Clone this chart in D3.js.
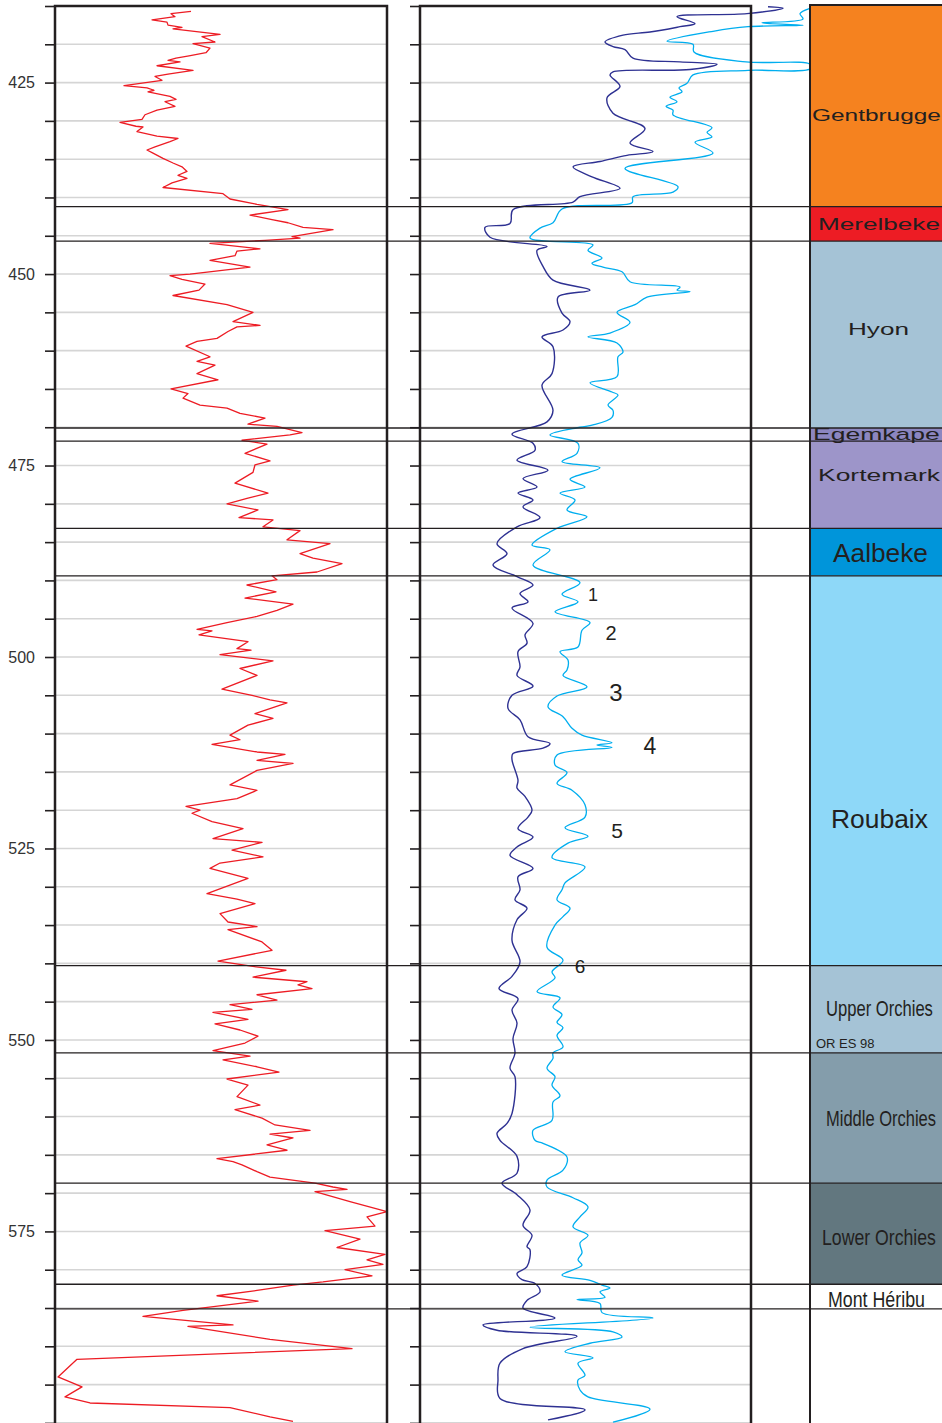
<!DOCTYPE html>
<html><head><meta charset="utf-8">
<script src="https://cdn.jsdelivr.net/npm/d3@7"></script>
<style>html,body{margin:0;padding:0;background:#fff;}svg{display:block;}</style>
</head><body>
<svg id="chart" width="942" height="1423"></svg>
<script>
// ---------------- DATA ----------------
const depthTicks = d3.range(415, 601, 5);
const depthLabels = [425, 450, 475, 500, 525, 550, 575];

const formationNames = ["Gentbrugge","Merelbeke","Hyon","Egemkape","Kortemark","Aalbeke","Roubaix","Upper Orchies","Middle Orchies","Lower Orchies","Mont Héribu"];
const formationTop  = [415.0, 441.2, 445.7, 470.1, 471.8, 483.2, 489.4, 540.3, 551.7, 568.7, 581.9];
const formationBase = [441.2, 445.7, 470.1, 471.8, 483.2, 489.4, 540.3, 551.7, 568.7, 581.9, 585.1];
const sampleNote = "OR ES 98";

const redDepth = [415.7,416.0,416.4,416.8,417.1,417.5,417.8,418.0,418.7,419.0,
419.7,419.9,420.5,421.1,421.5,421.8,422.1,422.3,422.8,423.4,
423.9,424.2,424.7,425.4,425.7,426.0,426.2,426.8,427.2,427.5,
428.1,428.6,429.2,429.8,430.2,430.7,430.8,431.4,432.0,432.3,
432.7,433.4,433.8,434.2,434.9,435.5,436.0,436.6,437.1,437.5,
438.1,438.7,439.5,440.2,440.9,441.6,442.3,442.9,443.3,443.9,
444.2,445.1,445.3,445.6,446.0,446.7,447.0,447.6,448.2,449.1,
450.0,450.2,450.7,451.3,452.1,452.8,
454.0,455.0,456.2,456.7,456.9,457.5,458.4,458.8,459.4,460.8,
461.4,461.9,463.0,463.8,465.0,465.6,466.2,467.1,467.5,468.2,
468.8,469.6,469.9,470.7,471.0,471.7,472.2,473.4,474.4,474.9,
475.9,477.3,478.6,479.3,480.0,480.8,481.8,482.1,483.0,483.5,
484.7,485.2,486.5,487.1,487.8,488.9,489.4,489.9,490.6,491.5,
492.3,493.1,493.9,494.7,495.5,496.4,496.6,497.1,498.0,498.9,
499.1,499.7,500.5,501.5,502.4,504.2,505.0,505.6,506.0,507.4,
508.0,508.9,510.2,510.8,511.4,512.4,512.7,513.5,513.9,514.8,
516.7,517.4,518.5,519.5,520.0,520.4,521.5,522.4,523.7,524.2,
525.2,526.1,526.9,527.6,528.9,530.9,531.6,532.2,533.5,534.6,
535.2,535.6,537.2,538.3,539.7,540.4,540.9,541.8,542.4,542.8,
543.3,544.1,544.8,545.4,546.0,546.4,547.3,547.9,548.7,549.5,
550.4,551.4,552.1,552.6,553.5,554.2,555.1,555.9,557.4,558.5,
559.1,560.2,561.1,561.8,562.3,562.8,563.7,564.4,565.5,565.9,
566.3,567.2,567.9,568.4,568.7,569.2,569.5,569.8,571.1,572.4,
573.1,574.3,574.9,576.0,577.1,578.0,578.7,579.3,580.0,580.8,
581.6,582.0,582.7,583.4,584.1,585.3,586.1,587.2,587.4,589.1,
590.3,591.7,594.0,595.3,596.6,597.4,598.0,599.2,599.8];
const redValue = [68,58,60,48.5,56,56.5,63.5,59,82.5,73.5,
80,69,77.5,75.5,67,60.5,56.5,62.5,51,69,
56.5,50,53.5,34.5,46,49.5,46.5,57.5,60.5,55,
60,51,45,43.5,32.5,40.5,44,41,51,61.5,
57.5,50,46,49,54,59,63.5,66,61.5,66,
58.5,54,84,87.5,101,116.5,97.5,108.5,116.5,124,
139,118.5,122.5,105,77.5,102.5,91,90,77.5,97.5,
67.5,57.5,63.5,75,72,59,
86,99,89,102.5,91,86.5,81,71,65.5,77.5,
71,80,71,81.5,58,66.5,64,72.5,86,92.5,
105,96.5,111,123.5,117.5,93.5,106,95,107.5,100,
99,90,106.5,96,86,101.5,92,109,104,122.5,
116,137.5,122.5,129,143.5,131,108.5,111,96,110.5,
95,119,111,101,86,71,78.5,72,96.5,91,
98,82.5,109,92.5,101,83.5,98.5,107.5,116,100,
109,96.5,87.5,92.5,78.5,101,115,101,119,101,
87.5,101,91,65.5,72.5,68.5,78.5,94,79,103.5,
88.5,104,82.5,77.5,96.5,76,91,100,82.5,86.5,
101,86.5,103.5,108.5,81.5,99,115.5,99,126,121.5,
128.5,101,111,87.5,98.5,79,96.5,80,92.5,101.5,
95,79,97.5,84,101,112,86,96.5,91,102.5,
90,103.5,110,127.5,107.5,119,106,116,81,89,
93.5,101,107.5,121.5,130,139,146,130,147.5,166,
156,160,135,152.5,141,165,156,164,145,158.5,
134,119,101,81,101.5,64,44,89,66.5,107.5,
148.5,11,1.5,13.5,5,17.5,87.5,107.5,119];

const navyDepth = [415.1,415.3,416.0,416.4,417.3,417.7,418.4,418.8,419.7,420.3,
420.7,421.8,422.3,422.6,423.3,423.6,424.0,425.5,427.0,429.0,
431.0,432.9,434.0,434.5,435.3,436.0,437.3,438.8,439.9,440.6,
441.6,443.4,443.9,445.2,446.4,446.9,449.0,450.8,452.1,453.0,
455.1,456.2,457.3,458.2,459.5,463.0,464.5,467.8,469.3,470.9,
472.1,473.0,474.3,475.6,476.7,477.8,478.6,479.5,480.4,481.8,
483.0,485.2,486.5,488.0,489.5,490.6,491.7,492.8,493.6,495.6,
497.1,498.2,499.3,501.3,502.4,503.8,505.0,506.7,508.2,510.4,
511.3,511.9,512.6,513.4,516.1,517.1,518.2,520.0,520.9,522.4,
523.5,524.8,525.9,527.6,528.7,530.4,531.7,532.8,534.3,537.0,
539.8,541.7,543.3,544.6,546.1,547.8,549.8,551.7,553.7,554.8,
559.6,560.9,562.2,563.1,565.2,567.4,568.7,570.2,572.2,574.2,
575.5,577.0,577.4,579.6,580.5,581.3,581.8,582.9,584.0,585.0,
586.3,587.2,587.9,588.7,590.3,592.2,594.4,596.8,598.3,599.6];
const navyValue = [174,181.5,163.5,128.5,137.5,130,115,101.5,92.5,96.5,
102.5,106.5,130,148.5,135,96.5,95,100,93.5,96.5,
112.5,105,116.5,103.5,90,76.5,86,100,80,76.5,
46.5,45,32.5,35,63.5,58.5,61.5,66.5,85,69,
71,75,71.5,61,66.5,66,61,66.5,63.5,46,
56.5,57.5,48.5,64,51.5,58.5,49,56.5,51.5,60,
48.5,38.5,43.5,36.5,48.5,56.5,50,54,46,56.5,
52.5,53.5,49,50,48.5,56.5,46,44,50,54,
65,61.5,46.5,46,49,48.5,52.5,56,54,49,
56.5,48.5,45,56.5,49,50,47.5,53.5,48.5,46,
50,46,39.5,49,46,48.5,46.5,47.5,45,47.5,
46,43.5,38.5,40,48.5,48.5,41,48.5,55,51.5,
56,53.5,55,53.5,48.5,51,57.5,60,53.5,51.5,
67.5,31.5,38.5,78.5,51.5,40,39,40,82.5,64];

const cyanDepth = [415.3,416.0,416.7,417.2,417.5,417.7,418.3,419.6,420.0,421.0,
422.3,422.6,423.2,423.4,424.0,425.1,425.7,426.2,426.9,427.5,
428.1,428.6,429.2,430.9,431.5,432.1,432.8,434.2,436.2,438.6,
439.3,439.9,440.7,441.5,443.3,444.0,445.3,446.2,446.9,447.9,
448.6,449.1,449.7,451.0,451.7,452.1,452.3,453.0,454.0,455.0,
456.3,457.7,458.2,459.0,460.2,460.8,463.4,464.2,465.4,465.8,
467.1,467.8,468.7,469.7,470.0,471.0,472.1,473.4,474.5,475.3,
476.8,477.8,478.6,479.5,480.8,481.7,483.2,485.4,486.0,488.0,
490.3,491.8,492.8,494.1,495.5,496.5,498.7,499.3,500.4,501.7,
502.4,503.9,505.1,506.5,507.8,509.3,510.2,511.2,511.5,511.8,
512.8,514.1,515.1,516.5,517.4,519.3,520.9,522.3,523.4,524.3,
526.2,527.4,529.5,530.4,531.7,532.8,533.9,535.0,537.9,539.6,
541.1,541.9,543.7,544.5,545.7,546.7,547.7,548.4,549.4,550.9,
551.7,552.4,553.7,554.8,555.9,557.3,558.1,560.5,561.8,563.1,
563.5,565.3,567.0,568.3,569.2,570.6,571.8,573.1,574.4,575.5,
576.5,577.8,578.7,579.4,580.7,581.4,582.0,582.4,582.9,583.6,
583.9,584.4,585.6,586.3,587.5,588.1,588.8,589.6,590.7,591.5,
592.2,593.8,594.4,595.7,596.6,598.2,599.9];
const cyanValue = [195,190,191.5,171,191.5,164,146.5,123.5,136.5,137,
163,195,195,164,136.5,133.5,129.5,131,125,128.5,
123,126.5,126.5,146,143.5,146,137.5,146.5,102.5,129,
126.5,106.5,106,71,66.5,60,55,86.5,84,91,
86,91.5,101,105,130,128.5,135,113.5,107.5,98.5,
105,95,84,98.5,101.5,99,98.5,85,96,99,
94,96.5,96,86.5,80,65,79,78.5,71,90,
75,82.5,70,77.5,73.5,83.5,68.5,56,65,56.5,
80,71,79,67.5,85,81,79,70,74,73.5,
71.5,83.5,68.5,64,71.5,76,81,96,88.5,96,
68.5,67.5,73.5,68.5,76,82.5,82.5,72.5,84,74,
66,82.5,72.5,71,68.5,75,71.5,67.5,63.5,71.5,
66,67.5,58.5,70,66.5,71,68.5,71.5,68.5,71.5,
66.5,66.5,63.5,67.5,66,70,66.5,66,56.5,57.5,
61.5,73.5,71.5,63.5,63.5,76.5,84,80,76.5,84,
80,81,79,81,71,85,91,95,90,92.5,
78.5,90,91,116.5,55,96.5,101,85,72.5,86.5,
79,82.5,79,80,84,115,96.5];

const markerLabels = ["1","2","3","4","5","6"];
const markerDepth  = [491.9, 496.9, 504.6, 511.6, 522.7, 540.4];
const markerValue  = [86.5, 95.5, 98, 115, 98.5, 80];

// ---------------- STYLE / LAYOUT ----------------
const INK = "#231F20";
const FONT = "Liberation Sans, Arial, sans-serif";
const formationStyle = {
  "Gentbrugge":     {fill:"#F5821F", x:812, base:121, fs:16.5, len:129},
  "Merelbeke":      {fill:"#ED1C24", x:818, base:230, fs:16.5, len:122},
  "Hyon":           {fill:"#A5C3D6", x:848, base:335, fs:16.5, len:61},
  "Egemkape":       {fill:"#8C86C0", x:813, base:440, fs:16,   len:127},
  "Kortemark":      {fill:"#9D95C9", x:818, base:481, fs:16.5, len:122},
  "Aalbeke":        {fill:"#0095DA", x:833, base:562, fs:25,   len:95},
  "Roubaix":        {fill:"#8ED8F8", x:831, base:828, fs:25,   len:97},
  "Upper Orchies":  {fill:"#A5C3D6", x:826, base:1016, fs:22,  len:107},
  "Middle Orchies": {fill:"#849DAB", x:826, base:1126, fs:22,  len:110},
  "Lower Orchies":  {fill:"#62777F", x:822, base:1245, fs:22,  len:114},
  "Mont Héribu":    {fill:"#FFFFFF", x:828, base:1307, fs:22,  len:97}
};
const markerSize = [18, 20, 24, 23, 21, 19];

const svg = d3.select("#chart");
const y = d3.scaleLinear().domain([415, 600]).range([6, 1422.9]);
const xL = d3.scaleLinear().domain([0, 166]).range([55, 387]);
const xM = d3.scaleLinear().domain([0, 166]).range([420, 752]);

// gridlines
[[55,387],[420,751]].forEach(([a,b]) => {
  svg.append("g").selectAll("line").data(depthTicks.filter(d => d > 415)).join("line")
    .attr("x1", a).attr("x2", b).attr("y1", d => y(d)).attr("y2", d => y(d))
    .attr("stroke", "#d5d5d5").attr("stroke-width", 1.6);
});

// axes
const axL = svg.append("g").attr("transform", "translate(55,0)")
  .call(d3.axisLeft(y).tickValues(depthTicks).tickSize(10).tickPadding(10)
    .tickFormat(d => depthLabels.includes(d) ? d : ""));
const axM = svg.append("g").attr("transform", "translate(420,0)")
  .call(d3.axisLeft(y).tickValues(depthTicks).tickSize(10).tickFormat(""));
[axL, axM].forEach(g => {
  g.select(".domain").remove();
  g.selectAll(".tick line").attr("stroke", INK).attr("stroke-width", 1.6);
  g.selectAll(".tick text").attr("fill", "#333").attr("font-size", 16).attr("font-family", FONT);
});

// curves
const redPts = redDepth.map((d,i) => [redValue[i], d]);
const navyPts = navyDepth.map((d,i) => [navyValue[i], d]);
const cyanPts = cyanDepth.map((d,i) => [cyanValue[i], d]);
svg.append("path").datum(redPts)
  .attr("d", d3.line().x(p => xL(p[0])).y(p => y(p[1])))
  .attr("fill", "none").attr("stroke", "#ED1C24").attr("stroke-width", 1.3).attr("stroke-linejoin","round");
svg.append("path").datum(cyanPts)
  .attr("d", d3.line().curve(d3.curveCatmullRom.alpha(0.5)).x(p => xM(p[0])).y(p => y(p[1])))
  .attr("fill", "none").attr("stroke", "#00AEEF").attr("stroke-width", 1.3);
svg.append("path").datum(navyPts)
  .attr("d", d3.line().curve(d3.curveCatmullRom.alpha(0.5)).x(p => xM(p[0])).y(p => y(p[1])))
  .attr("fill", "none").attr("stroke", "#2E3192").attr("stroke-width", 1.4);

// panel frames
[[55,387],[420,751]].forEach(([a,b]) => {
  svg.append("path").attr("d", `M${a},1423V6H${b}V1423`)
    .attr("fill", "none").attr("stroke", INK).attr("stroke-width", 2.5);
});

// formation column
const col = svg.append("g");
col.selectAll("rect").data(formationNames).join("rect")
  .attr("x", 810).attr("width", 132)
  .attr("y", (d,i) => y(formationTop[i])).attr("height", (d,i) => y(formationBase[i]) - y(formationTop[i]))
  .attr("fill", d => formationStyle[d].fill);
svg.append("line").attr("x1", 810).attr("x2", 942).attr("y1", 5).attr("y2", 5).attr("stroke", INK).attr("stroke-width", 2);
svg.append("line").attr("x1", 810).attr("x2", 810).attr("y1", 4).attr("y2", 1423).attr("stroke", INK).attr("stroke-width", 2);

// boundaries
svg.append("g").selectAll("line").data(formationBase).join("line")
  .attr("x1", 55).attr("x2", 942).attr("y1", d => y(d)).attr("y2", d => y(d))
  .attr("stroke", INK).attr("stroke-width", 1.3);

// formation labels: scaled horizontally so their real box matches the reference width
col.selectAll("text.fm").data(formationNames).join("text").attr("class", "fm")
  .attr("x", 0).attr("y", 0)
  .attr("font-family", FONT)
  .attr("font-size", d => formationStyle[d].fs)
  .attr("fill", INK).text(d => d)
  .each(function(d) {
    const s = formationStyle[d];
    const natural = this.getComputedTextLength();
    const sx = s.len / natural;
    d3.select(this).attr("transform", `translate(${s.x},${s.base}) scale(${sx},1)`);
  });
col.append("text").attr("x", 816).attr("y", 1048).attr("font-size", 13)
  .attr("font-family", FONT).attr("fill", INK).text(sampleNote);

// markers
svg.append("g").selectAll("text").data(markerLabels).join("text")
  .attr("x", (d,i) => xM(markerValue[i])).attr("y", (d,i) => y(markerDepth[i]))
  .attr("text-anchor", "middle").attr("dominant-baseline", "central")
  .attr("font-family", FONT)
  .attr("font-size", (d,i) => markerSize[i]).attr("fill", INK).text(d => d);
</script>
</body></html>
